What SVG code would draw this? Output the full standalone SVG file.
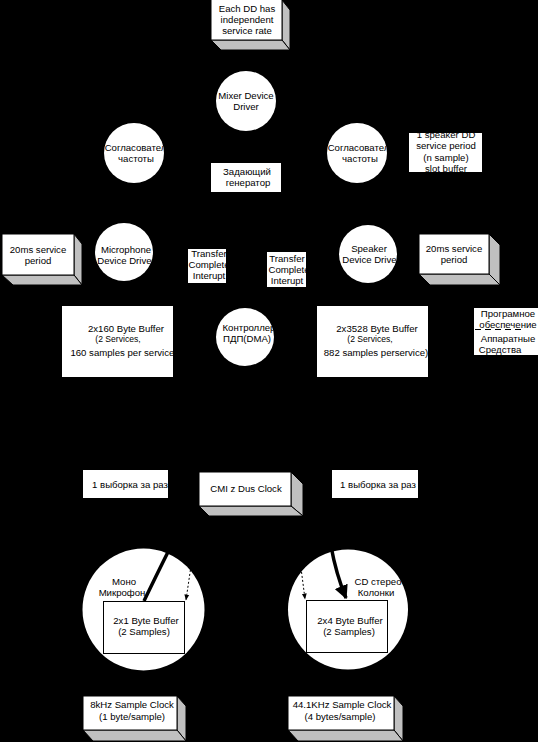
<svg xmlns="http://www.w3.org/2000/svg" width="538" height="742" viewBox="0 0 538 742">
<style>
.t{font-family:"Liberation Sans",Arial,sans-serif;font-size:9.6px;fill:#000;text-anchor:middle}
.ts{font-size:8.6px}
.n{fill:#fff}
.b{fill:#fff;stroke:#000;stroke-width:1}
.g{fill:#c0c0c0;stroke:#000;stroke-width:1}
.thick{fill:none;stroke:#000;stroke-width:3.5}
.dot{fill:none;stroke:#000;stroke-width:1;stroke-dasharray:2 2}
</style>
<defs>
<marker id="big" viewBox="0 0 10 10" refX="9" refY="5" markerWidth="4" markerHeight="4" orient="auto" markerUnits="strokeWidth"><path d="M0,0 L10,5 L0,10 z" fill="#000"/></marker>
<marker id="small" viewBox="0 0 10 10" refX="9" refY="5" markerWidth="6" markerHeight="6" orient="auto" markerUnits="strokeWidth"><path d="M0,1 L10,5 L0,9 z" fill="#000"/></marker>
<clipPath id="cSL"><circle cx="134" cy="153" r="30"/></clipPath>
<clipPath id="cSR"><circle cx="357" cy="153" r="30"/></clipPath>
<clipPath id="cMic"><circle cx="124" cy="252" r="29"/></clipPath>
<clipPath id="cSpk"><circle cx="368" cy="254" r="29"/></clipPath>
<clipPath id="cDma"><circle cx="245" cy="337" r="29"/></clipPath>
<clipPath id="cSpDD"><rect x="409" y="133" width="73" height="39"/></clipPath>
<clipPath id="cTL"><rect x="188" y="249" width="38" height="34"/></clipPath>
<clipPath id="cTR"><rect x="267" y="252" width="39" height="35"/></clipPath>
<clipPath id="cB1"><rect x="62" y="306" width="111" height="71"/></clipPath>
<clipPath id="cB2"><rect x="317" y="306" width="111" height="71"/></clipPath>
<clipPath id="cPO"><rect x="474" y="308" width="64" height="47"/></clipPath>
<clipPath id="cS1"><rect x="83" y="470" width="85" height="28"/></clipPath>
<clipPath id="cS2"><rect x="332" y="470" width="86" height="28"/></clipPath>
</defs>
<rect x="0" y="0" width="538" height="742" fill="#000"/>

<g id="note-each-dd">
<polygon class="g" points="282,0 290,10 290,50 282,40"/>
<polygon class="g" points="211,40 282,40 290,50 221,50"/>
<rect class="b" x="211" y="-1" width="71" height="41"/>
<text class="t" x="247" y="12">Each DD has</text>
<text class="t" x="247" y="23">independent</text>
<text class="t" x="247" y="34">service rate</text>
</g>

<g id="mixer">
<circle class="n" cx="246" cy="101" r="30"/>
<text class="t" x="246" y="99">Mixer Device</text>
<text class="t" x="246" y="110">Driver</text>
</g>

<g id="sogl-left">
<circle class="n" cx="134" cy="153" r="30"/>
<g clip-path="url(#cSL)">
<text class="t" x="138" y="151">Согласователь</text>
<text class="t" x="136" y="162">частоты</text>
</g>
</g>

<g id="sogl-right">
<circle class="n" cx="357" cy="153" r="30"/>
<g clip-path="url(#cSR)">
<text class="t" x="361" y="151">Согласователь</text>
<text class="t" x="360" y="162">частоты</text>
</g>
</g>

<g id="generator">
<rect class="n" x="211" y="163" width="70" height="29"/>
<text class="t" x="247" y="175">Задающий</text>
<text class="t" x="248" y="186">генератор</text>
</g>

<g id="note-speaker-dd">
<rect class="n" x="409" y="133" width="73" height="39"/>
<g clip-path="url(#cSpDD)">
<text class="t" x="446" y="138">1 speaker DD</text>
<text class="t" x="446" y="149">service period</text>
<text class="t" x="446" y="161">(n sample)</text>
<text class="t" x="446" y="172">slot buffer</text>
</g>
</g>

<g id="note-20ms-left">
<polygon class="g" points="74,234 82,244 82,285 74,275"/>
<polygon class="g" points="2,275 74,275 82,285 13,285"/>
<rect class="b" x="2" y="234" width="72" height="41"/>
<text class="t" x="38" y="253">20ms service</text>
<text class="t" x="38" y="264">period</text>
</g>

<g id="microphone-dd">
<circle class="n" cx="124" cy="252" r="29"/>
<g clip-path="url(#cMic)">
<text class="t" x="126" y="253">Microphone</text>
<text class="t" x="126" y="264">Device Driver</text>
</g>
</g>

<g id="transfer-left">
<rect class="n" x="188" y="249" width="38" height="34"/>
<g clip-path="url(#cTL)">
<text class="t" x="209" y="257">Transfer</text>
<text class="t" x="209" y="268">Complete</text>
<text class="t" x="209" y="279">Interupt</text>
</g>
</g>

<g id="transfer-right">
<rect class="n" x="267" y="252" width="39" height="35"/>
<g clip-path="url(#cTR)">
<text class="t" x="287" y="262">Transfer</text>
<text class="t" x="289" y="273">Complete</text>
<text class="t" x="287" y="284">Interupt</text>
</g>
</g>

<g id="speaker-dd">
<circle class="n" cx="368" cy="254" r="29"/>
<g clip-path="url(#cSpk)">
<text class="t" x="369" y="252">Speaker</text>
<text class="t" x="371" y="263">Device Driver</text>
</g>
</g>

<g id="note-20ms-right">
<polygon class="g" points="489,234 500,245 500,285 489,274"/>
<polygon class="g" points="419,274 489,274 500,285 430,285"/>
<rect class="b" x="419" y="234" width="70" height="40"/>
<text class="t" x="454" y="252">20ms service</text>
<text class="t" x="454" y="263">period</text>
</g>

<g id="buffer-160">
<rect class="n" x="62" y="306" width="111" height="71"/>
<g clip-path="url(#cB1)">
<text class="t" x="126" y="332">2x160 Byte Buffer</text>
<text class="t ts" x="118" y="342">(2 Services,</text>
<text class="t" x="124" y="356">160 samples per service)</text>
</g>
</g>

<g id="dma">
<circle class="n" cx="245" cy="337" r="29"/>
<g clip-path="url(#cDma)">
<text class="t" x="249" y="331">Контроллер</text>
<text class="t" x="247" y="342">ПДП(DMA)</text>
</g>
</g>

<g id="buffer-3528">
<rect class="n" x="317" y="306" width="111" height="71"/>
<g clip-path="url(#cB2)">
<text class="t" x="377" y="332">2x3528 Byte Buffer</text>
<text class="t ts" x="370" y="342">(2 Services,</text>
<text class="t" x="376" y="356">882 samples perservice)</text>
</g>
</g>

<g id="legend-sw-hw">
<rect class="n" x="474" y="308" width="64" height="47"/>
<g clip-path="url(#cPO)">
<text class="t" x="508" y="317">Програмное</text>
<text class="t" x="508" y="328">обеспечение</text>
<line x1="475" y1="329.5" x2="522" y2="329.5" stroke="#000" stroke-width="1" stroke-dasharray="6 4"/>
<text class="t" x="508" y="342">Аппаратные</text>
<text class="t" x="500" y="353">Средства</text>
</g>
</g>

<g id="label-sample-left">
<rect class="n" x="83" y="470" width="85" height="28"/>
<g clip-path="url(#cS1)">
<text class="t" x="130" y="488">1 выборка за раз</text>
</g>
</g>

<g id="cmi-clock">
<polygon class="g" points="291,472 303,484 303,516 291,506"/>
<polygon class="g" points="199,506 291,506 303,516 209,516"/>
<rect class="b" x="199" y="472" width="92" height="34"/>
<text class="t" x="246" y="492">CMI z Dus Clock</text>
</g>

<g id="label-sample-right">
<rect class="n" x="332" y="470" width="86" height="28"/>
<g clip-path="url(#cS2)">
<text class="t" x="378" y="488">1 выборка за раз</text>
</g>
</g>

<g id="mono-mic">
<circle class="n" cx="143.5" cy="609.5" r="61"/>
<rect class="b" x="103.5" y="601.5" width="81" height="52"/>
<text class="t" x="146" y="624">2x1 Byte Buffer</text>
<text class="t" x="144" y="635">(2 Samples)</text>
<text class="t" x="124" y="585">Моно</text>
<text class="t" x="122" y="596">Микрофон</text>
</g>

<g id="cd-stereo">
<circle class="n" cx="348" cy="609.5" r="60"/>
<rect class="b" x="306.5" y="600.5" width="81" height="52"/>
<text class="t" x="350" y="624">2x4 Byte Buffer</text>
<text class="t" x="349" y="635">(2 Samples)</text>
<text class="t" x="378" y="585">CD стерео</text>
<text class="t" x="376" y="596">Колонки</text>
</g>

<g id="clock-8k">
<polygon class="g" points="177,696 186,706 186,741 177,730"/>
<polygon class="g" points="83,730 177,730 186,741 93,741"/>
<rect class="b" x="83" y="696" width="94" height="34"/>
<text class="t" x="132" y="708">8kHz Sample Clock</text>
<text class="t" x="132" y="720">(1 byte/sample)</text>
</g>

<g id="clock-44k">
<polygon class="g" points="394,696 403,706 403,741 394,730"/>
<polygon class="g" points="288,730 394,730 403,741 298,741"/>
<rect class="b" x="288" y="696" width="106" height="34"/>
<text class="t" x="342" y="708">44.1KHz Sample Clock</text>
<text class="t" x="340" y="720">(4 bytes/sample)</text>
</g>

<g id="connectors">
<path class="thick" d="M170,548 Q156,576 144,601"/>
<path class="thick" d="M331,546 Q336,574 346,598" marker-end="url(#big)"/>
<path class="dot" d="M191,566 L186,600" marker-end="url(#small)"/>
<path class="dot" d="M301,568 L305,599" marker-end="url(#small)"/>
</g>
</svg>
